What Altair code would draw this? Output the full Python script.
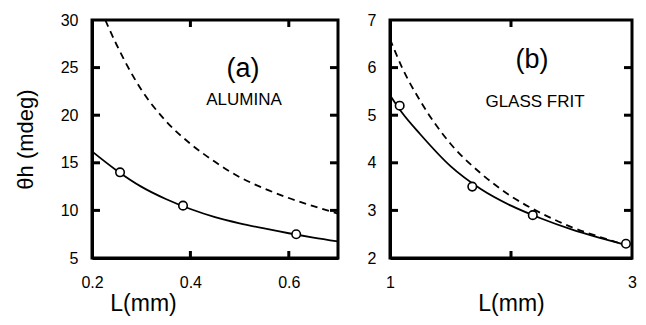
import altair as alt
import pandas as pd

# ---------------- Panel (a): ALUMINA ----------------
a_solid_L = [0.20, 0.25, 0.30, 0.35, 0.40, 0.45, 0.50, 0.55, 0.60, 0.65, 0.70]
a_solid_theta = [16.2, 14.2, 12.5, 11.2, 10.15, 9.3, 8.65, 8.1, 7.6, 7.15, 6.75]
a_dash_L = [0.227, 0.25, 0.30, 0.35, 0.40, 0.45, 0.50, 0.55, 0.60, 0.65, 0.70]
a_dash_theta = [30.0, 27.4, 22.7, 19.4, 17.0, 15.1, 13.5, 12.3, 11.3, 10.45, 9.65]
a_pts_L = [0.257, 0.385, 0.615]
a_pts_theta = [14.0, 10.5, 7.5]
a_xlabels = [0.2, 0.4, 0.6]
a_ylabels = [5, 10, 15, 20, 25, 30]
a_xticks = [0.4, 0.6]
a_yticks = [10.0, 15.0, 20.0, 25.0]

# ---------------- Panel (b): GLASS FRIT ----------------
b_solid_L = [1.0, 1.1, 1.25, 1.5, 1.75, 2.0, 2.25, 2.5, 2.75, 2.95]
b_solid_theta = [5.42, 5.05, 4.6, 3.93, 3.45, 3.1, 2.83, 2.6, 2.41, 2.27]
b_dash_L = [1.0, 1.1, 1.25, 1.5, 1.75, 2.0, 2.25, 2.5, 2.75, 2.95]
b_dash_theta = [6.6, 6.0, 5.3, 4.4, 3.78, 3.3, 2.94, 2.65, 2.43, 2.27]
b_pts_L = [1.08, 1.68, 2.18, 2.95]
b_pts_theta = [5.2, 3.5, 2.9, 2.3]
b_xlabels = [1, 2, 3]
b_ylabels = [2, 3, 4, 5, 6, 7]
b_xticks = [2.0]
b_yticks = [3.0, 4.0, 5.0, 6.0]

H = 238
TICK = 7


def panel(W, solid_L, solid_t, dash_L, dash_t, pts_L, pts_t, xdom, ydom,
          xlabels, ylabels, xticks, yticks, xfmt, ytitle, xtitle_x,
          label, label_xy, material, material_xy):
    xs = alt.Scale(domain=xdom, nice=False, zero=False)
    ys = alt.Scale(domain=ydom, nice=False, zero=False)
    xkw = {"titleX": xtitle_x} if xtitle_x is not None else {}
    xaxis = alt.Axis(values=xlabels, format=xfmt, ticks=False, grid=False,
                     domain=True, domainColor="black", domainWidth=3,
                     labelFontSize=16, labelPadding=16, labelFlush=False,
                     title="L(mm)", titleFontSize=23, titleFontWeight="normal",
                     titlePadding=2, **xkw)
    if ytitle:
        yaxis = alt.Axis(values=ylabels, format="d", ticks=False, grid=False,
                         domain=True, domainColor="black", domainWidth=3,
                         labelFontSize=16, labelPadding=14, labelFlush=False,
                         title=ytitle, titleFontSize=22,
                         titleFontWeight="normal", titlePadding=23)
    else:
        yaxis = alt.Axis(values=ylabels, format="d", ticks=False, grid=False,
                         domain=True, domainColor="black", domainWidth=3,
                         labelFontSize=16, labelPadding=14, labelFlush=False,
                         title=None)

    solid_df = pd.DataFrame({"L": solid_L, "theta": solid_t})
    dash_df = pd.DataFrame({"L": dash_L, "theta": dash_t})
    pts_df = pd.DataFrame({"L": pts_L, "theta": pts_t})

    solid = alt.Chart(solid_df).mark_line(
        color="black", strokeWidth=1.8, interpolate="monotone"
    ).encode(x=alt.X("L:Q", scale=xs, axis=xaxis),
             y=alt.Y("theta:Q", scale=ys, axis=yaxis))
    dashed = alt.Chart(dash_df).mark_line(
        color="black", strokeWidth=1.8, strokeDash=[7, 5], interpolate="monotone"
    ).encode(x=alt.X("L:Q", scale=xs, axis=xaxis),
             y=alt.Y("theta:Q", scale=ys, axis=yaxis))
    pts = alt.Chart(pts_df).mark_point(
        shape="circle", size=72, color="black", fill="white", filled=False,
        strokeWidth=1.6, opacity=1
    ).encode(x=alt.X("L:Q", scale=xs, axis=xaxis),
             y=alt.Y("theta:Q", scale=ys, axis=yaxis))

    xt_df = pd.DataFrame({"L": xticks})
    yt_df = pd.DataFrame({"theta": yticks})
    xt_bot = alt.Chart(xt_df).mark_rule(color="black", strokeWidth=3).encode(
        x=alt.X("L:Q", scale=xs, axis=xaxis), y=alt.value(H), y2=alt.value(H - TICK))
    xt_top = alt.Chart(xt_df).mark_rule(color="black", strokeWidth=3).encode(
        x=alt.X("L:Q", scale=xs, axis=xaxis), y=alt.value(0), y2=alt.value(TICK))
    yt_left = alt.Chart(yt_df).mark_rule(color="black", strokeWidth=3).encode(
        y=alt.Y("theta:Q", scale=ys, axis=yaxis), x=alt.value(0), x2=alt.value(TICK + 1))
    yt_right = alt.Chart(yt_df).mark_rule(color="black", strokeWidth=3).encode(
        y=alt.Y("theta:Q", scale=ys, axis=yaxis), x=alt.value(W), x2=alt.value(W - TICK - 1))

    lab = alt.Chart(pd.DataFrame({"t": [label]})).mark_text(
        fontSize=27, color="black", align="center", baseline="middle"
    ).encode(text="t:N", x=alt.value(label_xy[0]), y=alt.value(label_xy[1]))
    mat = alt.Chart(pd.DataFrame({"t": [material]})).mark_text(
        fontSize=17, color="black", align="center", baseline="middle"
    ).encode(text="t:N", x=alt.value(material_xy[0]), y=alt.value(material_xy[1]))

    return alt.layer(solid, dashed, pts, xt_bot, xt_top, yt_left, yt_right,
                     lab, mat).properties(
        width=W, height=H,
        view=alt.ViewBackground(stroke="black", strokeWidth=3))


pa = panel(246, a_solid_L, a_solid_theta, a_dash_L, a_dash_theta, a_pts_L,
           a_pts_theta, [0.2, 0.7], [5, 30], a_xlabels, a_ylabels, a_xticks,
           a_yticks, ".1f", "θh (mdeg)", 51, "(a)", (151, 49), "ALUMINA", (152, 80))
pb = panel(242, b_solid_L, b_solid_theta, b_dash_L, b_dash_theta, b_pts_L,
           b_pts_theta, [1, 3], [2, 7], b_xlabels, b_ylabels, b_xticks,
           b_yticks, "d", None, None, "(b)", (142, 40), "GLASS FRIT",
           (145, 82))

chart = alt.hconcat(pa, pb, spacing=21).properties(
    padding={"left": 4, "top": 2, "right": 0, "bottom": 0})

chart.save("out.html", embed_options={"renderer": "svg", "actions": False})
